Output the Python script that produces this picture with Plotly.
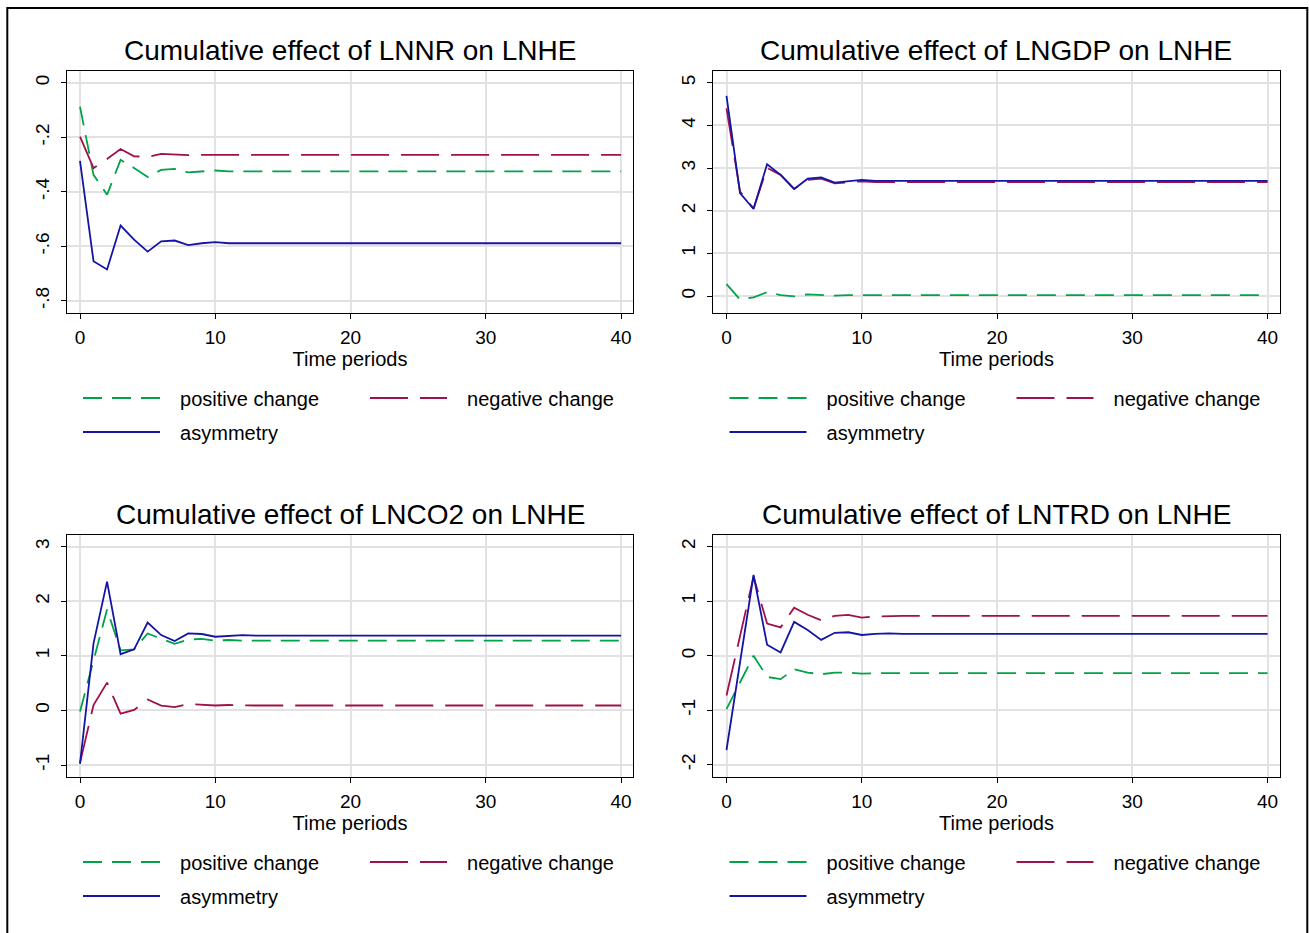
import plotly.graph_objects as go

W, H = 1309, 933

periods = list(range(41))

titles = ["Cumulative effect of LNNR on LNHE", "Cumulative effect of LNGDP on LNHE",
          "Cumulative effect of LNCO2 on LNHE", "Cumulative effect of LNTRD on LNHE"]
series_names = ["positive change", "negative change", "asymmetry"]

# Panel 1: LNNR
pos1 = [-0.088, -0.338, -0.411, -0.283, -0.313, -0.346, -0.320, -0.316, -0.329, -0.326,
        -0.322, -0.325, -0.324, -0.325, -0.325, -0.325, -0.325, -0.325, -0.325, -0.325,
        -0.325, -0.325, -0.325, -0.325, -0.325, -0.325, -0.325, -0.325, -0.325, -0.325,
        -0.325, -0.325, -0.325, -0.325, -0.325, -0.325, -0.325, -0.325, -0.325, -0.325, -0.325]
neg1 = [-0.198, -0.313, -0.280, -0.243, -0.270, -0.272, -0.261, -0.263, -0.266, -0.265,
        -0.264, -0.265, -0.265, -0.265, -0.265, -0.265, -0.265, -0.265, -0.265, -0.265,
        -0.265, -0.265, -0.265, -0.265, -0.265, -0.265, -0.265, -0.265, -0.265, -0.265,
        -0.265, -0.265, -0.265, -0.265, -0.265, -0.265, -0.265, -0.265, -0.265, -0.265, -0.265]
asy1 = [-0.287, -0.655, -0.685, -0.524, -0.576, -0.620, -0.582, -0.579, -0.596, -0.589,
        -0.585, -0.589, -0.589, -0.588, -0.589, -0.589, -0.589, -0.589, -0.589, -0.589,
        -0.589, -0.589, -0.589, -0.589, -0.589, -0.589, -0.589, -0.589, -0.589, -0.589,
        -0.589, -0.589, -0.589, -0.589, -0.589, -0.589, -0.589, -0.589, -0.589, -0.589, -0.589]

# Panel 2: LNGDP
pos2 = [0.28, -0.08, -0.03, 0.09, 0.02, -0.01, 0.04, 0.02, 0.01, 0.02,
        0.02, 0.02, 0.02, 0.02, 0.02, 0.02, 0.02, 0.02, 0.02, 0.02,
        0.02, 0.02, 0.02, 0.02, 0.02, 0.02, 0.02, 0.02, 0.02, 0.02,
        0.02, 0.02, 0.02, 0.02, 0.02, 0.02, 0.02, 0.02, 0.02, 0.02, 0.02]
neg2 = [4.40, 2.45, 2.05, 3.00, 2.84, 2.51, 2.72, 2.75, 2.64, 2.67,
        2.69, 2.67, 2.67, 2.67, 2.67, 2.67, 2.67, 2.67, 2.67, 2.67,
        2.67, 2.67, 2.67, 2.67, 2.67, 2.67, 2.67, 2.67, 2.67, 2.67,
        2.67, 2.67, 2.67, 2.67, 2.67, 2.67, 2.67, 2.67, 2.67, 2.67, 2.67]
asy2 = [4.69, 2.41, 2.04, 3.09, 2.84, 2.51, 2.75, 2.78, 2.66, 2.69,
        2.72, 2.70, 2.70, 2.70, 2.70, 2.70, 2.70, 2.70, 2.70, 2.70,
        2.70, 2.70, 2.70, 2.70, 2.70, 2.70, 2.70, 2.70, 2.70, 2.70,
        2.70, 2.70, 2.70, 2.70, 2.70, 2.70, 2.70, 2.70, 2.70, 2.70, 2.70]

# Panel 3: LNCO2
pos3 = [-0.02, 0.92, 1.85, 1.10, 1.12, 1.41, 1.31, 1.22, 1.30, 1.31,
        1.28, 1.29, 1.28, 1.28, 1.28, 1.28, 1.28, 1.28, 1.28, 1.28,
        1.28, 1.28, 1.28, 1.28, 1.28, 1.28, 1.28, 1.28, 1.28, 1.28,
        1.28, 1.28, 1.28, 1.28, 1.28, 1.28, 1.28, 1.28, 1.28, 1.28, 1.28]
neg3 = [-0.96, 0.10, 0.51, -0.06, 0.01, 0.20, 0.09, 0.06, 0.12, 0.11,
        0.09, 0.10, 0.09, 0.09, 0.09, 0.09, 0.09, 0.09, 0.09, 0.09,
        0.09, 0.09, 0.09, 0.09, 0.09, 0.09, 0.09, 0.09, 0.09, 0.09,
        0.09, 0.09, 0.09, 0.09, 0.09, 0.09, 0.09, 0.09, 0.09, 0.09, 0.09]
asy3 = [-0.98, 1.23, 2.36, 1.03, 1.12, 1.61, 1.38, 1.27, 1.41, 1.40,
        1.35, 1.37, 1.38, 1.37, 1.37, 1.37, 1.37, 1.37, 1.37, 1.37,
        1.37, 1.37, 1.37, 1.37, 1.37, 1.37, 1.37, 1.37, 1.37, 1.37,
        1.37, 1.37, 1.37, 1.37, 1.37, 1.37, 1.37, 1.37, 1.37, 1.37, 1.37]

# Panel 4: LNTRD
pos4 = [-0.98, -0.50, 0.00, -0.39, -0.43, -0.25, -0.31, -0.34, -0.31, -0.31,
        -0.33, -0.32, -0.32, -0.32, -0.32, -0.32, -0.32, -0.32, -0.32, -0.32,
        -0.32, -0.32, -0.32, -0.32, -0.32, -0.32, -0.32, -0.32, -0.32, -0.32,
        -0.32, -0.32, -0.32, -0.32, -0.32, -0.32, -0.32, -0.32, -0.32, -0.32, -0.32]
neg4 = [-0.73, 0.35, 1.45, 0.59, 0.52, 0.88, 0.75, 0.65, 0.73, 0.75,
        0.70, 0.72, 0.73, 0.73, 0.73, 0.73, 0.73, 0.73, 0.73, 0.73,
        0.73, 0.73, 0.73, 0.73, 0.73, 0.73, 0.73, 0.73, 0.73, 0.73,
        0.73, 0.73, 0.73, 0.73, 0.73, 0.73, 0.73, 0.73, 0.73, 0.73, 0.73]
asy4 = [-1.73, -0.10, 1.48, 0.20, 0.06, 0.62, 0.47, 0.29, 0.42, 0.43,
        0.38, 0.40, 0.41, 0.40, 0.40, 0.40, 0.40, 0.40, 0.40, 0.40,
        0.40, 0.40, 0.40, 0.40, 0.40, 0.40, 0.40, 0.40, 0.40, 0.40,
        0.40, 0.40, 0.40, 0.40, 0.40, 0.40, 0.40, 0.40, 0.40, 0.40, 0.40]

x_ticks = [0, 10, 20, 30, 40]
y_ticks = [[0, -0.2, -0.4, -0.6, -0.8], [0, 1, 2, 3, 4, 5], [-1, 0, 1, 2, 3], [-2, -1, 0, 1, 2]]
y_ticktext = [["0", "-.2", "-.4", "-.6", "-.8"], ["0", "1", "2", "3", "4", "5"],
              ["-1", "0", "1", "2", "3"], ["-2", "-1", "0", "1", "2"]]
y_ranges = [[-0.846, 0.043], [-0.405, 5.274], [-1.225, 3.214], [-2.231, 2.214]]
x_range = [-0.983, 40.9]

panel_data = [(pos1, neg1, asy1), (pos2, neg2, asy2), (pos3, neg3, asy3), (pos4, neg4, asy4)]

COL = ["#00a24a", "#a0104a", "#1414a6"]
DASH = ["19px,10px", "38px,12px", "solid"]
FONT = "Liberation Sans, Arial, sans-serif"

# panel pixel geometry
panel_left = [66.7, 713.2, 66.7, 713.2]
panel_right = [633.3, 1279.8, 633.3, 1279.8]
panel_top = [71.0, 71.0, 535.0, 535.0]
panel_bot = [313.3, 313.3, 777.3, 777.3]

def fx(px):
    return px / W

def fy(py):
    return 1 - py / H

fig = go.Figure()
layout = dict(
    width=W, height=H, margin=dict(l=0, r=0, t=0, b=0),
    paper_bgcolor="white", plot_bgcolor="white",
    font=dict(family=FONT, color="black", size=18),
    annotations=[], shapes=[],
)

legend_idx = 0
for p in range(4):
    ax = "" if p == 0 else str(p + 1)
    for s in range(3):
        legend_idx += 1
        lname = "legend" if legend_idx == 1 else "legend%d" % legend_idx
        fig.add_trace(go.Scatter(
            x=periods, y=panel_data[p][s], mode="lines",
            name="\u00a0\u00a0\u2009" + series_names[s],
            line=dict(color=COL[s], width=1.8, dash=DASH[s]),
            xaxis="x" + ax, yaxis="y" + ax,
            legend=lname, showlegend=True, hoverinfo="skip",
        ))
        col_off = [83, 370, 83][s] + (646.5 if p in (1, 3) else 0)
        row_y = [399, 399, 433][s] + (464 if p >= 2 else 0)
        layout[lname] = dict(
            x=fx(col_off - 5), y=fy(row_y - 1), xanchor="left", yanchor="middle",
            xref="paper", yref="paper",
            orientation="h", itemwidth=77, bgcolor="rgba(0,0,0,0)",
            font=dict(family=FONT, size=20, color="black"),
            itemclick=False, itemdoubleclick=False,
        )

    layout["xaxis" + ax] = dict(
        domain=[fx(panel_left[p]), fx(panel_right[p])],
        anchor="y" + ax, range=x_range,
        tickvals=x_ticks, ticktext=[str(v) for v in x_ticks],
        ticks="outside", ticklen=5, tickwidth=1, tickcolor="black",
        showline=True, linecolor="black", linewidth=1.3, mirror=True,
        showgrid=True, gridcolor="#e2e2e2", gridwidth=2, zeroline=False,
        tickfont=dict(family=FONT, size=19), ticklabelstandoff=2,
        title=dict(text="Time periods", font=dict(family=FONT, size=20), standoff=0),
    )
    layout["yaxis" + ax] = dict(
        domain=[fy(panel_bot[p]), fy(panel_top[p])],
        anchor="x" + ax, range=y_ranges[p],
        tickvals=y_ticks[p], ticktext=y_ticktext[p], tickangle=-90,
        ticks="outside", ticklen=5, tickwidth=1, tickcolor="black",
        showline=True, linecolor="black", linewidth=1.3, mirror=True,
        showgrid=True, gridcolor="#e2e2e2", gridwidth=2, zeroline=False,
        tickfont=dict(family=FONT, size=19), ticklabelstandoff=4,
    )
    layout["annotations"].append(dict(
        text=titles[p], x=fx((panel_left[p] + panel_right[p]) / 2), y=fy(panel_top[p] - 21),
        xref="paper", yref="paper", xanchor="center", yanchor="middle", showarrow=False,
        font=dict(family=FONT, size=28, color="black"),
    ))

# outer border
layout["shapes"].append(dict(
    type="rect", xref="paper", yref="paper",
    x0=fx(7.3), x1=fx(1307.3), y0=-0.05, y1=fy(8),
    line=dict(color="black", width=2), fillcolor="rgba(0,0,0,0)", layer="above",
))

fig.update_layout(**layout)
fig.write_html("out.html", config={"displayModeBar": False},
               post_script="document.body.style.margin='0px';document.body.style.overflow='hidden';")
